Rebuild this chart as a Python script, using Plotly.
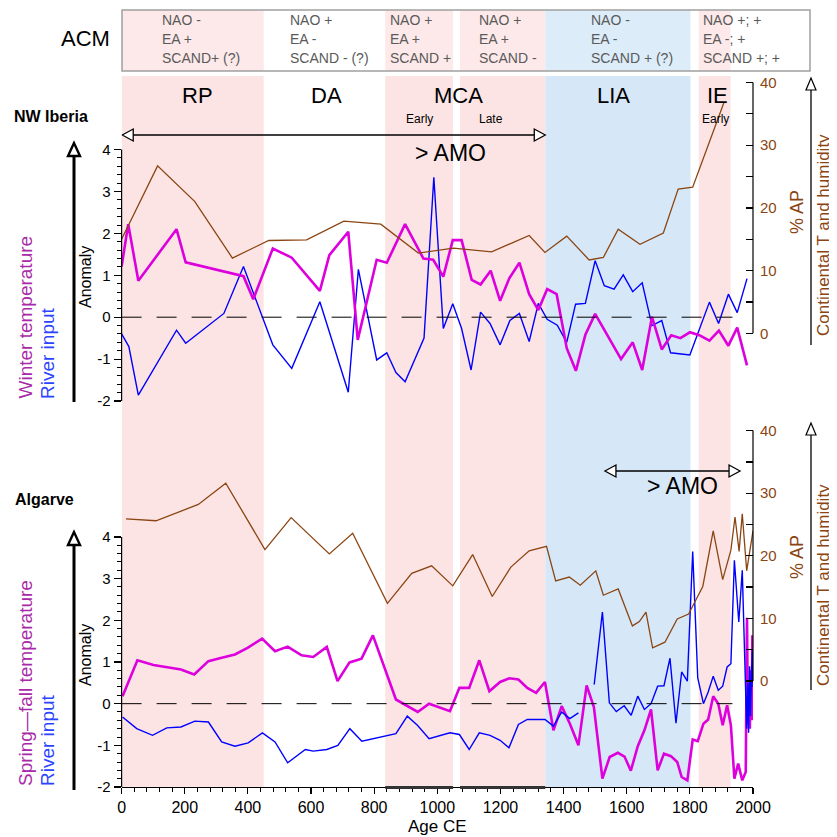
import plotly.graph_objects as go

# ---------------- DATA ----------------
# NW Iberia (upper panel)
nw_ap_years = [0, 114, 232, 351, 466, 586, 704, 821, 940, 1051, 1172, 1291, 1341, 1410, 1481, 1526,
               1573, 1642, 1716, 1763, 1809, 1908]
nw_ap = [15.0, 26.7, 21.0, 12.0, 14.8, 14.9, 17.9, 17.4, 12.8, 13.6, 13.0, 15.6, 12.9, 15.5, 11.7, 12.1,
         16.6, 14.2, 16.0, 23.0, 23.3, 36.8]

nw_temp_years = [0, 21, 53, 174, 203, 386, 417, 479, 539, 628, 658, 718, 748, 808, 840, 898, 956, 987,
                 1019, 1049, 1077, 1109, 1137, 1169, 1199, 1228, 1260, 1291, 1320, 1348, 1378, 1410,
                 1439, 1469, 1500, 1582, 1619, 1649, 1680, 1711, 1741, 1770, 1800, 1830, 1862, 1892,
                 1922, 1950, 1981]
nw_temp = [1.21, 2.22, 0.87, 2.10, 1.31, 0.98, 0.43, 1.64, 1.42, 0.63, 1.48, 2.04, -0.54, 1.37, 1.30,
           2.22, 1.40, 1.37, 0.97, 1.84, 1.84, 0.89, 0.78, 1.11, 0.39, 0.93, 1.30, 0.55, 0.17, 0.67,
           0.55, -0.74, -1.28, -0.42, 0.08, -1.00, -0.60, -1.26, 0.01, -0.77, -0.43, -0.50, -0.36,
           -0.43, -0.56, -0.32, -0.68, -0.25, -1.15]

nw_river_years = [0, 23, 53, 174, 203, 324, 386, 479, 539, 628, 718, 750, 808, 840, 869, 898, 958, 989,
                  1019, 1049, 1077, 1107, 1137, 1167, 1199, 1230, 1260, 1291, 1320, 1348, 1380, 1410,
                  1438, 1469, 1500, 1529, 1560, 1589, 1619, 1649, 1680, 1711, 1739, 1800, 1862, 1891,
                  1922, 1950, 1981]
nw_river = [-0.40, -0.70, -1.86, -0.31, -0.62, 0.09, 1.21, -0.66, -1.22, 0.37, -1.79, 1.14, -1.02,
            -0.85, -1.32, -1.54, -0.50, 3.34, -0.27, 0.32, -0.27, -1.26, 0.12, -0.15, -0.66, -0.08,
            0.09, -0.58, 0.33, -0.05, -0.19, -0.60, 0.31, 0.33, 1.35, 0.75, 0.67, 1.01, 0.61, 0.82,
            -0.20, -0.08, -0.85, -0.90, 0.36, -0.15, 0.55, 0.11, 0.92]

# Algarve (lower panel)
al_ap_years = [14, 109, 243, 330, 454, 537, 658, 732, 842, 919, 982, 1049, 1112, 1174, 1233, 1291, 1346,
               1375, 1418, 1453, 1502, 1526, 1573, 1618, 1640, 1661, 1682, 1721, 1760, 1796, 1841,
               1874, 1904, 1930, 1943, 1956, 1966, 1980, 2000]
al_ap = [25.9, 25.6, 28.2, 31.6, 21.0, 26.1, 20.3, 23.6, 12.4, 17.2, 18.4, 15.2, 20.2, 13.5, 18.2,
         20.8, 21.5, 16.0, 16.6, 15.3, 17.6, 13.7, 14.7, 8.8, 9.5, 11.0, 5.3, 6.2, 9.9, 10.7, 15.1,
         24.0, 16.2, 20.9, 26.2, 20.7, 26.7, 17.6, 24.0]

al_temp_years = [3, 50, 101, 148, 188, 230, 275, 317, 359, 399, 445, 486, 526, 570, 607, 650, 684, 722,
                 760, 796, 869, 938, 974, 1040, 1070, 1101, 1133, 1165, 1199, 1228, 1257, 1285, 1313,
                 1341, 1368, 1394, 1420, 1447, 1473, 1496, 1523, 1546, 1572, 1593, 1613, 1635, 1656,
                 1677, 1698, 1718, 1740, 1760, 1774, 1792, 1809, 1825, 1843, 1858, 1874, 1890, 1904,
                 1918, 1930, 1941, 1953, 1966, 1977, 1981, 1984, 1987, 1990, 1993, 1996, 1998, 2000]
al_temp = [0.18, 1.04, 0.93, 0.88, 0.82, 0.70, 1.02, 1.10, 1.18, 1.34, 1.56, 1.26, 1.37, 1.16, 1.12,
           1.36, 0.54, 0.99, 1.08, 1.64, 0.10, -0.20, 0.00, -0.18, 0.38, 0.38, 1.04, 0.30, 0.52, 0.61,
           0.58, 0.38, 0.26, 0.52, -0.64, -0.06, -0.48, -1.00, 0.44, -0.08, -1.80, -1.28, -1.18,
           -1.27, -1.61, -1.02, -0.64, -0.14, -1.60, -1.20, -1.26, -1.40, -1.76, -1.84, -0.86, -0.90,
           -0.48, -0.38, 0.18, 0.00, -0.52, -0.04, -0.52, -1.80, -1.44, -1.84, -1.64, 2.06, -0.50,
           0.30, -0.60, 0.80, -0.40, 1.64, -0.20]

al_river_years = [3, 48, 98, 143, 188, 232, 275, 317, 359, 401, 446, 486, 526, 582, 607, 650, 685, 723,
                  761, 840, 869, 905, 937, 974, 1040, 1070, 1101, 1133, 1167, 1199, 1227, 1257, 1285,
                  1341, 1368, 1394, 1420, 1447,
                  None,
                  1497, 1523, 1545, 1567, 1592, 1614, 1635, 1656, 1677, 1698, 1718, 1737, 1756, 1774,
                  1792, 1809, 1825, 1843, 1858, 1874, 1890, 1904, 1918, 1930, 1941, 1955, 1966, 1977,
                  1980, 1983, 1986, 1989, 1992, 1995, 1998, 2000]
al_river = [-0.32, -0.60, -0.76, -0.58, -0.56, -0.42, -0.44, -0.92, -1.02, -0.94, -0.70, -0.92, -1.42,
            -1.10, -1.14, -1.10, -1.00, -0.60, -0.90, -0.78, -0.72, -0.30, -0.52, -0.84, -0.70, -0.74,
            -1.10, -0.70, -0.76, -0.88, -1.06, -0.50, -0.38, -0.38, -0.54, -0.20, -0.36, -0.22,
            None,
            0.46, 2.20, 0.02, -0.19, -0.05, -0.28, 0.18, -0.14, 0.00, 0.42, 0.43, 1.09, -0.47, 0.76,
            0.54, 3.65, 0.62, 0.00, 0.28, 0.66, 0.32, 0.42, 0.88, 0.96, 3.44, 1.96, 3.20, -0.08,
            -0.60, 0.50, -0.70, 0.90, -0.30, 0.70, 1.28, 0.40]

# Climate periods (start, end, colour key)
period_names = ["RP", "DA", "MCA", "LIA", "IE"]
shade_start = [0, 835, 1072, 1342, 1828]
shade_end = [450, 1050, 1342, 1802, 1929]
shade_kind = ["warm", "warm", "warm", "cold", "warm"]

acm_columns = [
    ["NAO -", "EA +", "SCAND+ (?)"],
    ["NAO +", "EA -", "SCAND - (?)"],
    ["NAO +", "EA +", "SCAND +"],
    ["NAO +", "EA +", "SCAND -"],
    ["NAO -", "EA -", "SCAND + (?)"],
    ["NAO +; +", "EA -; +", "SCAND +; +"],
]

anom_ticks = [-2, -1, 0, 1, 2, 3, 4]
ap_ticks = [0, 10, 20, 30, 40]
x_ticks = list(range(0, 2001, 200))

# ---------------- STYLE / LAYOUT HELPERS ----------------
OFF = 8          # page offset of the figure inside the browser window
W = H = 837 - OFF
FONT = "Liberation Sans, Arial, Helvetica, sans-serif"
MAG = "#dd00dd"
BLUE = "#0000ff"
BROWN = "#8b4513"
PINK = "rgb(252,228,228)"
LBLUE = "rgb(214,232,247)"
PINK_BOX = "rgb(253,233,233)"
LBLUE_BOX = "rgb(220,236,249)"


def px(x):
    return (x - OFF) / W


def py(y):
    return 1 - (y - OFF) / H


X_DOM = [px(121.6), px(753)]
UP_DOM = [py(401), py(76)]
UP_L = [-2, -2 + (401 - 76) / 41.9]
UP_R = [-(401 - 333.3) / 6.27, (333.3 - 76) / 6.27]
LO_DOM = [py(787), py(425)]
LO_L = [-2, -2 + (787 - 425) / 41.67]
LO_R = [-(787 - 681) / 6.26, (681 - 425) / 6.26]

fig = go.Figure()

fig.add_trace(go.Scatter(x=nw_ap_years, y=nw_ap, xaxis="x2", yaxis="y4", mode="lines",
                         line=dict(color=BROWN, width=1.3), hoverinfo="skip"))
fig.add_trace(go.Scatter(x=nw_river_years, y=nw_river, xaxis="x2", yaxis="y3", mode="lines",
                         line=dict(color=BLUE, width=1.4), hoverinfo="skip"))
fig.add_trace(go.Scatter(x=nw_temp_years, y=nw_temp, xaxis="x2", yaxis="y3", mode="lines",
                         line=dict(color=MAG, width=2.6), hoverinfo="skip"))
fig.add_trace(go.Scatter(x=al_ap_years, y=al_ap, xaxis="x", yaxis="y2", mode="lines",
                         line=dict(color=BROWN, width=1.3), hoverinfo="skip"))
fig.add_trace(go.Scatter(x=al_temp_years, y=al_temp, xaxis="x", yaxis="y", mode="lines",
                         line=dict(color=MAG, width=2.6), hoverinfo="skip"))
fig.add_trace(go.Scatter(x=al_river_years, y=al_river, xaxis="x", yaxis="y", mode="lines",
                         line=dict(color=BLUE, width=1.4), hoverinfo="skip", connectgaps=False))

shapes = []
for s, e, k in zip(shade_start, shade_end, shade_kind):
    shapes.append(dict(type="rect", xref="x", yref="paper", x0=s, x1=e, y0=py(787), y1=py(76),
                       fillcolor=PINK if k == "warm" else LBLUE, line=dict(width=0), layer="below"))
    shapes.append(dict(type="rect", xref="x", yref="paper", x0=s, x1=e, y0=py(71), y1=py(10),
                       fillcolor=PINK_BOX if k == "warm" else LBLUE_BOX, line=dict(width=0),
                       layer="below"))
shapes.append(dict(type="rect", xref="paper", yref="paper", x0=px(122), x1=px(810), y0=py(71),
                   y1=py(10), line=dict(color="#a0a0a0", width=1.5), fillcolor="rgba(0,0,0,0)"))

shapes += [
    dict(type="line", xref="paper", yref="y3", x0=X_DOM[0], x1=X_DOM[0], y0=-2, y1=4,
         line=dict(color="black", width=1.2)),
    dict(type="line", xref="paper", yref="y4", x0=X_DOM[1], x1=X_DOM[1], y0=0, y1=40,
         line=dict(color="black", width=1.2)),
    dict(type="line", xref="paper", yref="y", x0=X_DOM[0], x1=X_DOM[0], y0=-2, y1=4,
         line=dict(color="black", width=1.2)),
    dict(type="line", xref="paper", yref="y2", x0=X_DOM[1], x1=X_DOM[1], y0=0, y1=40,
         line=dict(color="black", width=1.2)),
]
shapes += [
    dict(type="line", xref="x", yref="y3", x0=0, x1=1935, y0=0, y1=0,
         line=dict(color="black", width=1, dash="20px,15px")),
    dict(type="line", xref="x", yref="y", x0=0, x1=1935, y0=0, y1=0,
         line=dict(color="black", width=1, dash="20px,15px")),
]
for s, e in [(835, 1050), (1072, 1342)]:
    shapes.append(dict(type="line", xref="x", yref="paper", x0=s, x1=e, y0=py(787.5), y1=py(787.5),
                       line=dict(color="#333333", width=3)))


def vert_arrow(x, y_tip, y_end, lw, head_h, head_w):
    out = [dict(type="line", xref="paper", yref="paper", x0=px(x), x1=px(x), y0=py(y_end),
                y1=py(y_tip + head_h), line=dict(color="black", width=lw))]
    path = "M {a},{b} L {c},{d} L {e},{f} Z".format(
        a=px(x), b=py(y_tip), c=px(x - head_w), d=py(y_tip + head_h), e=px(x + head_w),
        f=py(y_tip + head_h))
    out.append(dict(type="path", xref="paper", yref="paper", path=path, fillcolor="white",
                    line=dict(color="black", width=max(lw * 0.8, 1.2))))
    return out


shapes += vert_arrow(74, 143, 402, 3, 13, 6)
shapes += vert_arrow(74, 532, 790, 3, 13, 6)
shapes += vert_arrow(811, 78, 345, 1.3, 12, 5)
shapes += vert_arrow(811, 423, 690, 1.3, 12, 5)

YR_PER_PX = 2000 / (753 - 121.6)


def horiz_arrow(x0, x1, ypix):
    hl = 11 * YR_PER_PX
    out = [dict(type="line", xref="x", yref="paper", x0=x0 + hl, x1=x1 - hl, y0=py(ypix), y1=py(ypix),
                line=dict(color="black", width=1.4))]
    for tip, base in [(x0, x0 + hl), (x1, x1 - hl)]:
        path = "M {a},{b} L {c},{d} L {c},{e} Z".format(a=tip, b=py(ypix), c=base, d=py(ypix - 6),
                                                         e=py(ypix + 6))
        out.append(dict(type="path", xref="x", yref="paper", path=path, fillcolor="white",
                        line=dict(color="black", width=1.3)))
    return out


shapes += horiz_arrow(2, 1342, 135)
shapes += horiz_arrow(1531, 1959, 471)

ann = []


def txt(text, x, y, size, color="black", xa="center", ya="middle", angle=0, bold=False, family=FONT):
    if bold:
        text = "<b>" + text + "</b>"
    ann.append(dict(text=text, x=px(x), y=py(y), xref="paper", yref="paper", showarrow=False,
                    xanchor=xa, yanchor=ya, textangle=angle,
                    font=dict(size=size, color=color, family=family)))


txt("ACM", 85, 38, 22)
col_x = [160, 288, 388, 477, 589, 701]
for cx, lines in zip(col_x, acm_columns):
    for i, line in enumerate(lines):
        txt(line, cx, 20 + 19 * i, 14, color="#5a5a5a", xa="left")

for name, cx in zip(period_names, [197, 326, 459, 613, 717]):
    txt(name, cx, 95, 22)
txt("Early", 419, 119, 12)
txt("Late", 491, 119, 12)
txt("Early", 715, 119, 12)

txt("NW Iberia", 12, 116, 16, xa="left", bold=True)
txt("Algarve", 13, 499, 16, xa="left", bold=True)
txt("> AMO", 451, 153, 23)
txt("> AMO", 682, 486, 23)
txt("Anomaly", 85, 277, 16, angle=-90)
txt("Anomaly", 85, 655, 16, angle=-90)
txt("Winter temperature", 25, 401, 19, color="#a82aa8", ya="bottom", angle=-90)
txt("River input", 47, 401, 19, color="#2a44ff", ya="bottom", angle=-90)
txt("Spring\u2014fall temperature", 25, 788, 19, color="#a82aa8", ya="bottom", angle=-90)
txt("River input", 47, 788, 19, color="#2a44ff", ya="bottom", angle=-90)
txt("% AP", 797, 212, 18, color=BROWN, angle=-90)
txt("% AP", 797, 557, 18, color=BROWN, angle=-90)
txt("Continental T and humidity", 823, 338, 17, color=BROWN, ya="bottom", angle=-90)
txt("Continental T and humidity", 823, 688, 17, color=BROWN, ya="bottom", angle=-90)
txt("Age CE", 437, 826, 17)


def minor_vals(step, lo, hi, major):
    vals = []
    v = lo
    while v <= hi + 1e-9:
        if all(abs(v - m) > 1e-6 for m in major):
            vals.append(round(v, 4))
        v += step
    return vals


left_axis = dict(showline=False, showgrid=False, zeroline=False, ticks="outside", tickmode="array",
                 tickvals=anom_ticks, ticktext=[str(t) for t in anom_ticks], ticklen=7,
                 tickcolor="black", tickwidth=1.2,
                 tickfont=dict(size=15, color="black", family=FONT),
                 minor=dict(tickmode="array", tickvals=minor_vals(0.2, -2, 4, anom_ticks), ticklen=4,
                            ticks="outside", tickcolor="black", tickwidth=1),
                 fixedrange=True)
right_axis = dict(showline=False, showgrid=False, zeroline=False, ticks="inside", tickmode="array",
                  tickvals=ap_ticks, ticktext=[str(t) for t in ap_ticks], ticklen=7,
                  tickcolor="black", tickwidth=1.2, side="right", ticklabelstandoff=6,
                  tickfont=dict(size=15, color=BROWN, family=FONT),
                  minor=dict(tickmode="array", tickvals=[5, 15, 25, 35], ticklen=7, ticks="inside",
                             tickcolor="black", tickwidth=1.2),
                  fixedrange=True)

fig.update_layout(
    width=W, height=H,
    margin=dict(l=0, r=0, t=0, b=0, autoexpand=False),
    paper_bgcolor="white", plot_bgcolor="rgba(0,0,0,0)",
    showlegend=False,
    font=dict(family=FONT, color="black"),
    xaxis=dict(domain=X_DOM, range=[0, 2000], anchor="y", showline=True, linecolor="black",
               linewidth=1.2, showgrid=False, zeroline=False, ticks="outside", tickmode="array",
               tickvals=x_ticks, ticktext=[str(t) for t in x_ticks], ticklen=6, tickwidth=1.2,
               tickcolor="black", tickfont=dict(size=16, family=FONT, color="black"),
               minor=dict(tickmode="array", tickvals=minor_vals(40, 0, 2000, x_ticks), ticklen=4,
                          ticks="outside", tickcolor="black", tickwidth=1),
               fixedrange=True),
    xaxis2=dict(domain=X_DOM, range=[0, 2000], anchor="y3", matches="x", visible=False,
                fixedrange=True),
    yaxis=dict(domain=LO_DOM, range=LO_L, anchor="x", side="left", **left_axis),
    yaxis2=dict(domain=LO_DOM, range=LO_R, anchor="x", overlaying="y", **right_axis),
    yaxis3=dict(domain=UP_DOM, range=UP_L, anchor="x2", side="left", **left_axis),
    yaxis4=dict(domain=UP_DOM, range=UP_R, anchor="x2", overlaying="y3", **right_axis),
    shapes=shapes,
    annotations=ann,
)

fig.write_html("out.html", config={"displayModeBar": False, "staticPlot": True})
